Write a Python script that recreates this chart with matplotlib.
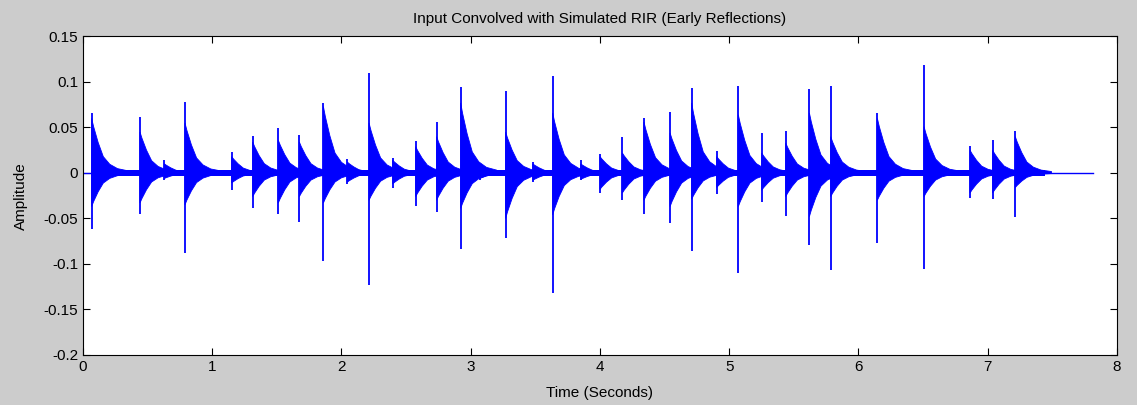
import matplotlib
matplotlib.use("Agg")
import matplotlib.pyplot as plt
import numpy as np

plt.rcParams['font.family'] = ['Liberation Sans', 'DejaVu Sans']

# Onset times of each transient (seconds)
hit_times = [0.067, 0.441, 0.63, 0.789, 1.15, 1.313, 1.511, 1.674, 1.86, 2.045,
             2.213, 2.396, 2.574, 2.736, 2.922, 3.07, 3.27, 3.48, 3.634, 3.851,
             4.0, 4.173, 4.34, 4.542, 4.709, 4.903, 5.07, 5.251, 5.437, 5.62,
             5.785, 6.146, 6.507, 6.863, 7.038, 7.213]
# Peak spike values (positive / negative)
peak_pos = [0.0656, 0.061, 0.014, 0.078, 0.023, 0.041, 0.049, 0.042, 0.0766, 0.015,
            0.1095, 0.016, 0.035, 0.056, 0.095, 0.010, 0.0905, 0.012, 0.107, 0.014,
            0.021, 0.039, 0.060, 0.0667, 0.093, 0.0245, 0.0956, 0.0436, 0.0465, 0.092,
            0.0956, 0.0656, 0.1187, 0.0297, 0.036, 0.0465]
peak_neg = [-0.0615, -0.045, -0.008, -0.0876, -0.019, -0.038, -0.045, -0.054, -0.0967, -0.012,
            -0.123, -0.016, -0.036, -0.0425, -0.0835, -0.008, -0.0715, -0.010, -0.1315, -0.008,
            -0.022, -0.030, -0.045, -0.0546, -0.0853, -0.023, -0.110, -0.0315, -0.047, -0.079,
            -0.107, -0.077, -0.106, -0.028, -0.029, -0.0487]
# Dense body envelope of each transient (upper / lower)
body_top = [0.060, 0.045, 0.010, 0.055, 0.018, 0.034, 0.036, 0.034, 0.073, 0.012,
            0.055, 0.014, 0.029, 0.040, 0.077, 0.008, 0.045, 0.010, 0.066, 0.010,
            0.018, 0.022, 0.056, 0.044, 0.077, 0.018, 0.064, 0.022, 0.033, 0.066,
            0.040, 0.060, 0.051, 0.025, 0.025, 0.040]
body_bot = [-0.037, -0.033, -0.006, -0.035, -0.011, -0.026, -0.033, -0.026, -0.033, -0.010,
            -0.030, -0.012, -0.026, -0.030, -0.039, -0.006, -0.050, -0.008, -0.046, -0.007,
            -0.018, -0.022, -0.030, -0.037, -0.029, -0.016, -0.037, -0.019, -0.026, -0.048,
            -0.026, -0.030, -0.026, -0.022, -0.022, -0.016]
# Decay profile of envelope (offset s, relative level)
decay_offsets = [0.0, 0.015, 0.05, 0.09, 0.14, 0.2, 0.28]
decay_levels = [1.0, 0.85, 0.56, 0.30, 0.16, 0.08, 0.04]
noise_floor = 0.0035
signal_start, tail_end, signal_end = 0.06, 7.44, 7.817

xticks = [0, 1, 2, 3, 4, 5, 6, 7, 8]
yticks = [-0.2, -0.15, -0.1, -0.05, 0, 0.05, 0.1, 0.15]
ytick_labels = ['-0.2', '-0.15', '-0.1', '-0.05', '0', '0.05', '0.1', '0.15']

blue = '#0000ff'
fig = plt.figure(figsize=(11.37, 4.05), dpi=100, facecolor='#cccccc')
ax = fig.add_axes([0.073, 0.1235, 0.9094, 0.7864])
ax.set_facecolor('white')

# baseline
ax.plot([0, signal_end], [0, 0], color=blue, lw=1.0)
ax.fill_between([signal_start, tail_end], [-noise_floor] * 2, [noise_floor] * 2,
                color=blue, lw=0)

for t, pp, pn, bt, bb in zip(hit_times, peak_pos, peak_neg, body_top, body_bot):
    xs = [t + o for o in decay_offsets]
    up = [bt * l for l in decay_levels]
    lo = [bb * l for l in decay_levels]
    ax.fill(xs + xs[::-1], up + lo[::-1], color=blue, lw=0.6, edgecolor=blue)
    ax.vlines(t, pn, pp, color=blue, lw=1.3)

ax.set_xlim(0, 8)
ax.set_ylim(-0.2, 0.15)
ax.set_xticks(xticks)
ax.set_xticklabels([str(x) for x in xticks])
ax.set_yticks(yticks)
ax.set_yticklabels(ytick_labels)
ax.tick_params(direction='in', top=True, right=True, length=5, labelsize=11, width=0.8)
for s in ax.spines.values():
    s.set_linewidth(0.8)
ax.set_title('Input Convolved with Simulated RIR (Early Reflections)', fontsize=11, pad=10)
ax.set_xlabel('Time (Seconds)', fontsize=11, labelpad=9)
ax.set_ylabel('Amplitude', fontsize=11, labelpad=11)

fig.savefig('out.png', dpi=100, facecolor=fig.get_facecolor())
